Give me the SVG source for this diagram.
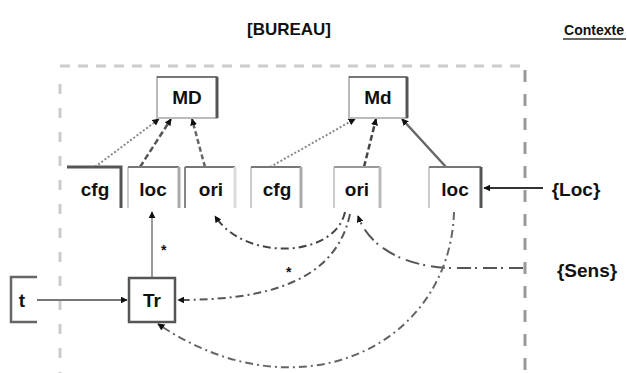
<svg xmlns="http://www.w3.org/2000/svg" width="627" height="373" viewBox="0 0 627 373">
<style>
text{font-family:"Liberation Sans",Arial,sans-serif;font-weight:bold;fill:#111}
.lbl{font-size:19px;text-anchor:middle}
.ttl{font-size:17px;text-anchor:middle}
.bl{fill:#fff;stroke:#bbb;stroke-width:2}
.dk{fill:none;stroke:#555;stroke-width:3}
.md{fill:none;stroke:#777;stroke-width:2}
.c{fill:none}
</style>
<defs>
<marker id="ah" viewBox="0 0 10 10" refX="9" refY="5" markerWidth="7" markerHeight="7" orient="auto-start-reverse" markerUnits="userSpaceOnUse">
<path d="M0,0 L10,5 L0,10 z" fill="#111"/>
</marker>
</defs>
<rect width="627" height="373" fill="#fff"/>
<text class="ttl" x="289" y="35">[BUREAU]</text>
<text x="594" y="35" style="font-size:14px;text-anchor:middle">Contexte</text>
<line x1="563" y1="39" x2="626" y2="39" stroke="#333" stroke-width="1.5"/>
<g id="frame">
<line x1="60" y1="66" x2="525" y2="66" stroke="#ccc" stroke-width="3" stroke-dasharray="10 8"/>
<line x1="60" y1="84" x2="60" y2="373" stroke="#ccc" stroke-width="3" stroke-dasharray="10 14"/>
<line x1="525" y1="70" x2="525" y2="373" stroke="#999" stroke-width="3" stroke-dasharray="12 12"/>
</g>
<g id="connectors">
<line x1="95" y1="167" x2="159" y2="119" stroke="#888" stroke-width="2" stroke-dasharray="2 2" marker-end="url(#ah)"/>
<line x1="140" y1="167" x2="171" y2="119" stroke="#555" stroke-width="2.5" stroke-dasharray="6 3" marker-end="url(#ah)"/>
<line x1="205" y1="167" x2="192" y2="119" stroke="#666" stroke-width="2.5" stroke-dasharray="5 3" marker-end="url(#ah)"/>
<line x1="270" y1="167" x2="355" y2="119" stroke="#888" stroke-width="2" stroke-dasharray="2 2" marker-end="url(#ah)"/>
<line x1="364" y1="167" x2="376" y2="119" stroke="#444" stroke-width="2.5" stroke-dasharray="6 3" marker-end="url(#ah)"/>
<line x1="446" y1="167" x2="402" y2="119" stroke="#666" stroke-width="2.5" marker-end="url(#ah)"/>
<line x1="543" y1="188" x2="484" y2="188" stroke="#333" stroke-width="2" marker-end="url(#ah)"/>
<line x1="152" y1="282" x2="152" y2="212" stroke="#999" stroke-width="2" marker-end="url(#ah)"/>
<line x1="37" y1="300" x2="127" y2="300" stroke="#777" stroke-width="2" marker-end="url(#ah)"/>
<path class="c" d="M345,212 C335,258 245,262 215,216" stroke="#444" stroke-width="2" stroke-dasharray="8 4 2 4" marker-end="url(#ah)"/>
<path class="c" d="M350,214 C335,285 260,300 178,300" stroke="#555" stroke-width="2" stroke-dasharray="8 4 2 4" marker-end="url(#ah)"/>
<path class="c" d="M523,268 L455,268 C410,268 370,250 358,216" stroke="#555" stroke-width="2" stroke-dasharray="14 6 2 4" marker-end="url(#ah)"/>
<path class="c" d="M454,212 C450,345 300,420 158,324" stroke="#666" stroke-width="2" stroke-dasharray="8 4 2 4" marker-end="url(#ah)"/>
<text x="161" y="255" style="font-size:14px">*</text>
<text x="286" y="277" style="font-size:14px">*</text>
</g>
<g id="MD">
<rect class="bl" x="157" y="77" width="60" height="41"/>
<path class="md" d="M157,77 H217"/><path class="dk" d="M217,77 V118"/>
<text class="lbl" x="187" y="104">MD</text>
</g>
<g id="Md">
<rect class="bl" x="349" y="77" width="58" height="41"/>
<path class="md" d="M349,77 H407"/><path class="dk" d="M407,77 V118"/>
<text class="lbl" x="378" y="104">Md</text>
</g>
<g id="cfg1">
<path class="dk" d="M67,167 H121 V208"/>
<text class="lbl" x="95" y="196">cfg</text>
</g>
<g id="loc1">
<path d="M128,208 V167" stroke="#ccc" stroke-width="2" fill="none"/>
<path class="md" d="M128,167 H179"/><path d="M179,167 V208" stroke="#aaa" stroke-width="3" fill="none"/>
<text class="lbl" x="153" y="196">loc</text>
</g>
<g id="ori1">
<path d="M185,208 V167" stroke="#888" stroke-width="2" fill="none"/>
<path class="md" d="M185,167 H235"/><path d="M235,167 V208" stroke="#ddd" stroke-width="3" fill="none"/>
<text class="lbl" x="211" y="196">ori</text>
</g>
<g id="cfg2">
<path d="M251,208 V167" stroke="#ccc" stroke-width="2" fill="none"/>
<path class="md" d="M251,167 H301"/><path d="M301,167 V208" stroke="#aaa" stroke-width="3" fill="none"/>
<text class="lbl" x="277" y="196">cfg</text>
</g>
<g id="ori2">
<path d="M334,208 V167" stroke="#ccc" stroke-width="2" fill="none"/>
<path d="M334,167 H380" stroke="#999" stroke-width="2" fill="none"/><path d="M380,167 V208" stroke="#bbb" stroke-width="3" fill="none"/>
<text class="lbl" x="357" y="196">ori</text>
</g>
<g id="loc2">
<path d="M429,208 V167" stroke="#ccc" stroke-width="2" fill="none"/>
<path class="md" d="M429,167 H481"/><path class="dk" d="M481,167 V208"/>
<text class="lbl" x="455" y="196">loc</text>
</g>
<g id="Loc">
<text class="lbl" x="576" y="196">{Loc}</text>
</g>
<g id="Sens">
<text class="lbl" x="587" y="277">{Sens}</text>
</g>
<g id="t">
<path d="M37,277 H11 V322 H37" stroke="#666" stroke-width="2.5" fill="none"/>
<text class="lbl" x="22" y="307">t</text>
</g>
<g id="Tr">
<rect x="129" y="278" width="46" height="44" fill="#fff" stroke="#555" stroke-width="2.5"/>
<text class="lbl" x="152" y="307">Tr</text>
</g>
</svg>
